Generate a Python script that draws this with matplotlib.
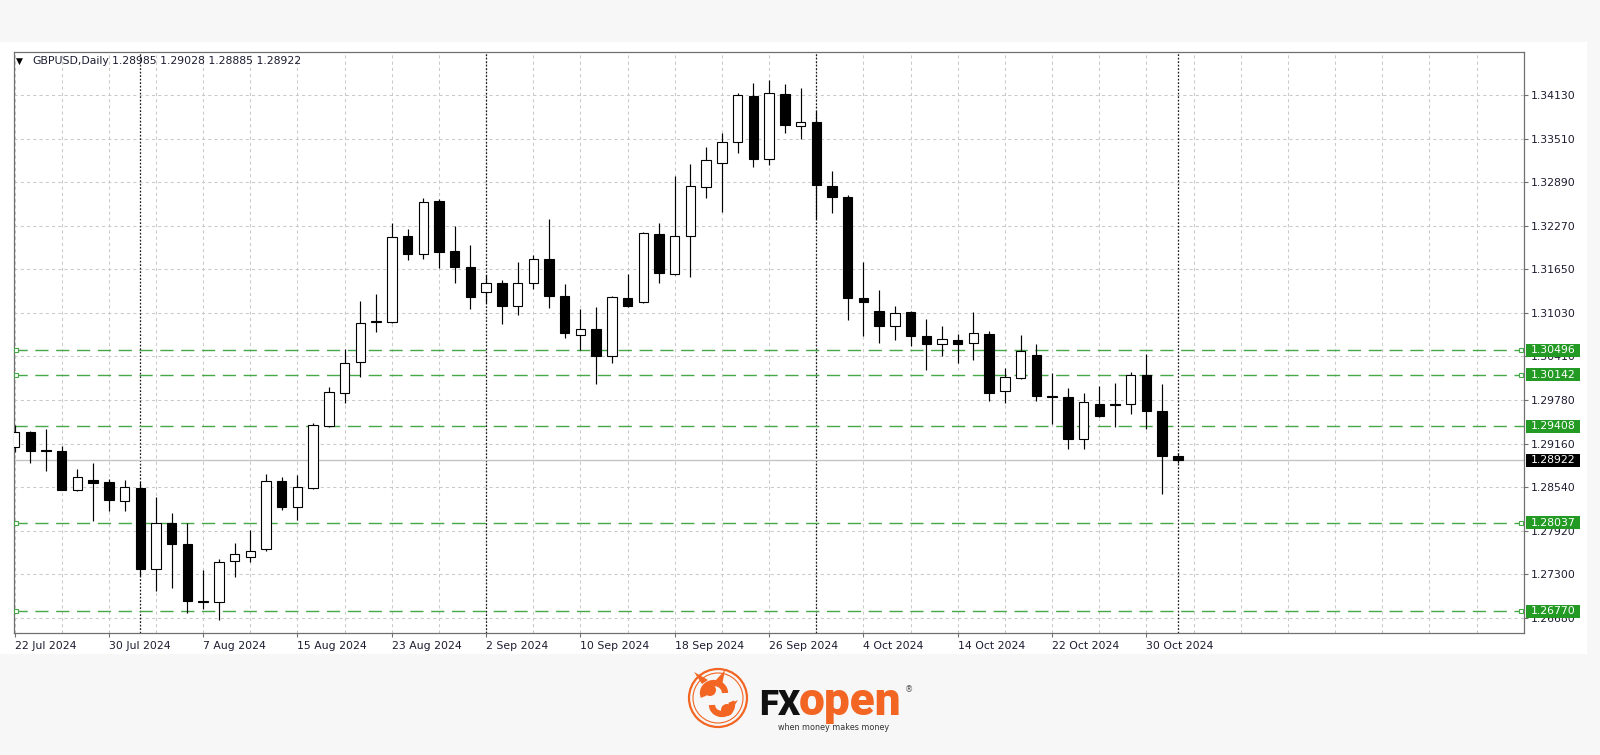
import numpy as np
import pandas as pd
import matplotlib
matplotlib.use('Agg')
import matplotlib.pyplot as plt
from matplotlib.patches import Rectangle, Circle, Arc, Polygon
from matplotlib.transforms import blended_transform_factory

# GBPUSD 日线  2024-07-22 ~ 2024-11-01
dates = pd.bdate_range('2024-07-22', '2024-11-01')
opens = [1.29118, 1.29323, 1.29071, 1.29057, 1.28501, 1.28648, 1.28611, 1.28344, 1.28534, 1.27380,
         1.28026, 1.27736, 1.26923, 1.26901, 1.27485, 1.27546, 1.27660, 1.28629, 1.28263, 1.28525,
         1.29413, 1.29888, 1.30329, 1.30891, 1.30899, 1.32121, 1.31860, 1.32624, 1.31907, 1.31683,
         1.31327, 1.31455, 1.31123, 1.31455, 1.31789, 1.31266, 1.30710, 1.30795, 1.30415, 1.31233,
         1.31185, 1.32149, 1.31579, 1.32121, 1.32815, 1.33165, 1.33456, 1.34116, 1.33214, 1.34140,
         1.33684, 1.33741, 1.32833, 1.32672, 1.31242, 1.31056, 1.30838, 1.31038, 1.30700, 1.30582,
         1.30639, 1.30592, 1.30724, 1.29912, 1.30093, 1.30425, 1.29841, 1.29831, 1.29224, 1.29731,
         1.29727, 1.29722, 1.30140, 1.29627, 1.28985]
highs = [1.29427, 1.29342, 1.29366, 1.29132, 1.28796, 1.28881, 1.28658, 1.28644, 1.28611, 1.28397,
         1.28169, 1.28026, 1.27361, 1.27522, 1.27741, 1.27931, 1.28729, 1.28691, 1.28715, 1.29452,
         1.29965, 1.30506, 1.31194, 1.31294, 1.32302, 1.32216, 1.32658, 1.32641, 1.32268, 1.31988,
         1.31565, 1.31494, 1.31755, 1.31850, 1.32359, 1.31437, 1.31080, 1.31113, 1.31266, 1.31575,
         1.32182, 1.32302, 1.32980, 1.33143, 1.33393, 1.33593, 1.34154, 1.34297, 1.34344, 1.34283,
         1.34226, 1.33906, 1.33051, 1.32705, 1.31755, 1.31351, 1.31128, 1.31052, 1.30938, 1.30842,
         1.30724, 1.31033, 1.30771, 1.30235, 1.30710, 1.30577, 1.30164, 1.29950, 1.29879, 1.29987,
         1.30022, 1.30178, 1.30439, 1.30007, 1.29028]
lows = [1.29047, 1.28881, 1.28772, 1.28495, 1.28491, 1.28063, 1.28206, 1.28202, 1.27280, 1.27062,
        1.27100, 1.26744, 1.26801, 1.26648, 1.27265, 1.27479, 1.27636, 1.28216, 1.28074, 1.28511,
        1.29395, 1.29737, 1.30107, 1.30757, 1.30885, 1.31779, 1.31789, 1.31669, 1.31447, 1.31080,
        1.31162, 1.30867, 1.30995, 1.31361, 1.31099, 1.30663, 1.30496, 1.30012, 1.30315, 1.31116,
        1.31173, 1.31447, 1.31565, 1.31532, 1.32667, 1.32467, 1.33308, 1.33108, 1.33128, 1.33593,
        1.33499, 1.32363, 1.32448, 1.30924, 1.30696, 1.30592, 1.30639, 1.30553, 1.30211, 1.30411,
        1.30307, 1.30354, 1.29774, 1.29737, 1.30079, 1.29769, 1.29442, 1.29081, 1.29090, 1.29548,
        1.29395, 1.29580, 1.29366, 1.28444, 1.28885]
closes = [1.29323, 1.29061, 1.29050, 1.28501, 1.28682, 1.28605, 1.28359, 1.28548, 1.27371, 1.28026,
          1.27727, 1.26919, 1.26901, 1.27479, 1.27585, 1.27636, 1.28634, 1.28255, 1.28548, 1.29427,
          1.29898, 1.30315, 1.30877, 1.30905, 1.32102, 1.31864, 1.32605, 1.31897, 1.31675, 1.31256,
          1.31455, 1.31123, 1.31455, 1.31797, 1.31261, 1.30734, 1.30791, 1.30415, 1.31247, 1.31128,
          1.32159, 1.31589, 1.32125, 1.32833, 1.33204, 1.33456, 1.34130, 1.33222, 1.34154, 1.33703,
          1.33745, 1.32843, 1.32672, 1.31242, 1.31180, 1.30842, 1.31028, 1.30696, 1.30582, 1.30649,
          1.30582, 1.30734, 1.29888, 1.30107, 1.30486, 1.29845, 1.29822, 1.29224, 1.29751, 1.29556,
          1.29708, 1.30140, 1.29627, 1.28985, 1.28922]

# 右侧价格刻度
price_ticks = [1.34130, 1.33510, 1.32890, 1.32270, 1.31650, 1.31030, 1.30410,
               1.29780, 1.29160, 1.28540, 1.27920, 1.27300, 1.26680]
# 水平线(绿色虚线) 以及是否被选中
levels = [1.30496, 1.30142, 1.29408, 1.28037, 1.26770]
selected = [True, True, False, True, True]
bid = 1.28922

header_name = 'GBPUSD,Daily'
header_ohlc = '1.28985 1.29028 1.28885 1.28922'

W, H = 1600, 755
GREEN = '#46a846'
BOX_GREEN = '#239a23'
ORANGE = '#f26522'
TXT = '#1c1c30'

fig = plt.figure(figsize=(W / 100, H / 100), dpi=100, facecolor='#f7f7f7')

# 背景层(像素坐标)
bg = fig.add_axes([0, 0, 1, 1], zorder=0)
bg.set_xlim(0, W)
bg.set_ylim(H, 0)
bg.axis('off')
bg.add_patch(Rectangle((0, 42), 1587, 612, facecolor='white', edgecolor='none'))

# 主图
ax = fig.add_axes([14 / W, 1 - 633 / H, 1510 / W, 581 / H], zorder=1)
ax.set_facecolor('white')
n = len(dates)
x = np.arange(n)
ax.set_xlim(-0.032, 96.02)
ax.set_ylim(1.26463, 1.34743)

# 网格
for g in range(0, 97, 3):
    ax.axvline(g, color='#cacaca', lw=0.75, ls=(0, (3, 3)), zorder=0.5)
for p in price_ticks:
    ax.axhline(p, color='#cacaca', lw=0.75, ls=(0, (3, 3)), zorder=0.5)

# 月分隔线
month_start = [i for i in range(1, n) if dates[i].month != dates[i - 1].month]
for i in month_start:
    ax.axvline(i, color='#1a1a1a', lw=0.9, ls=(0, (1.4, 1.4)), zorder=0.6)

# bid线
ax.axhline(bid, color='#c4c4c4', lw=1.0, zorder=0.7)

# 水平线
for lv, sel in zip(levels, selected):
    ax.axhline(lv, color=GREEN, lw=1.0, ls=(0, (9.5, 5.5)), zorder=0.8)
    if sel:
        ax.plot([0.08, 95.8], [lv, lv], 's', ms=3.2, mfc='white', mec=GREEN,
                mew=0.8, clip_on=False, zorder=4)

# K线
o = np.array(opens); h = np.array(highs); l = np.array(lows); c = np.array(closes)
ax.vlines(x, l, h, color='black', lw=0.85, zorder=2)
up = c >= o
body_lo = np.minimum(o, c)
body_h = np.maximum(np.abs(c - o), 0.00001)
ax.bar(x[up], body_h[up], bottom=body_lo[up], width=0.6, facecolor='white',
       edgecolor='black', lw=0.8, zorder=3)
ax.bar(x[~up], body_h[~up], bottom=body_lo[~up], width=0.6, facecolor='black',
       edgecolor='black', lw=0.8, zorder=3)

# 坐标轴
for s in ax.spines.values():
    s.set_color('#707070')
    s.set_linewidth(0.9)
ax.yaxis.tick_right()
ax.set_yticks(price_ticks)
ax.set_yticklabels(['%.5f' % p for p in price_ticks])
ax.tick_params(axis='y', length=3, width=0.8, pad=1.6, labelsize=7.8,
               color='#707070', labelcolor=TXT)
xt = list(range(0, n, 6))
ax.set_xticks(xt)
ax.set_xticklabels(['%d %s' % (dates[i].day, dates[i].strftime('%b %Y')) for i in xt])
ax.tick_params(axis='x', length=3, width=0.8, pad=2.6, labelsize=7.8,
               color='#707070', labelcolor=TXT)
plt.setp(ax.get_xticklabels(), ha='left')

# 右侧价格标签
tr = blended_transform_factory(ax.transAxes, ax.transData)
hh = 6.5 * 0.00014251
for lv in levels:
    ax.add_patch(Rectangle((1.0011, lv - hh), 0.0360, 2 * hh, transform=tr,
                           facecolor=BOX_GREEN, edgecolor='none', clip_on=False, zorder=6))
    ax.text(1.0043, lv, '%.5f' % lv, transform=tr, color='white', fontsize=7.8,
            va='center', ha='left', clip_on=False, zorder=7)
ax.add_patch(Rectangle((1.0011, bid - hh), 0.0360, 2 * hh, transform=tr,
                       facecolor='black', edgecolor='none', clip_on=False, zorder=6))
ax.text(1.0043, bid, '%.5f' % bid, transform=tr, color='white', fontsize=7.8,
        va='center', ha='left', clip_on=False, zorder=7)

# 标题
fig.text(16 / W, 1 - 61 / H, '\u25bc', fontsize=6.5, color='black', va='center', ha='left')
fig.text(32 / W, 1 - 61 / H, header_name, fontsize=7.8, color=TXT, va='center', ha='left')
fig.text(112 / W, 1 - 61 / H, header_ohlc, fontsize=7.8, color=TXT, va='center', ha='left')

# logo: 圆环 + 牛头线稿(近似)
cx, cy = 718, 698
bg.add_patch(Circle((cx, cy), 29, fill=False, ec=ORANGE, lw=1.6))
bg.add_patch(Circle((cx, cy), 25, fill=False, ec=ORANGE, lw=0.8))
bg.add_patch(Arc((cx - 4, cy - 5), 22, 20, theta1=160, theta2=360, color=ORANGE, lw=4.5))
bg.add_patch(Arc((cx + 4, cy + 7), 20, 18, theta1=-20, theta2=180, color=ORANGE, lw=4.5))
bg.add_patch(Circle((cx - 8, cy - 8), 6, fc=ORANGE, ec='none'))
bg.add_patch(Circle((cx + 9, cy + 12), 6, fc=ORANGE, ec='none'))
bg.add_patch(Polygon([(702, 684), (694, 672), (708, 680)], closed=True, fc=ORANGE, ec='none'))
bg.add_patch(Polygon([(716, 680), (725, 670), (722, 685)], closed=True, fc=ORANGE, ec='none'))
bg.add_patch(Polygon([(726, 706), (738, 700), (731, 711)], closed=True, fc=ORANGE, ec='none'))
bg.text(759, 715, 'FX', fontsize=25, fontweight='black', family='Roboto',
        color='#111111', va='baseline', ha='left')
bg.text(799, 715, 'open', fontsize=33, fontweight='black', family='Roboto',
        color=ORANGE, va='baseline', ha='left')
bg.text(905, 690, '\u00ae', fontsize=6, color='#555555', va='center', ha='left')
bg.text(778, 727, 'when money makes money', fontsize=5.8, color='#333333',
        va='center', ha='left')

fig.savefig('out.png', dpi=100, facecolor=fig.get_facecolor())
